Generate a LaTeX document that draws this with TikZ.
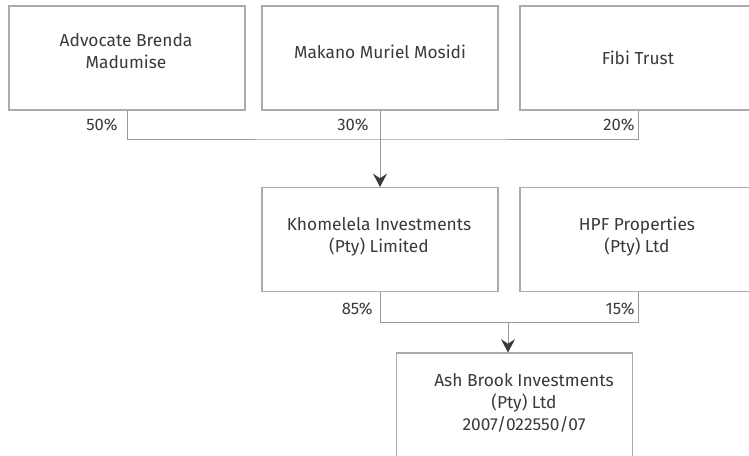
\documentclass[tikz,border=0pt]{standalone}
\usepackage{fontspec}
\setmainfont{Fira Sans}
\usetikzlibrary{arrows.meta}
\definecolor{boxline}{HTML}{ABABAB}
\definecolor{connline}{HTML}{999999}
\definecolor{ink}{HTML}{3A3A3A}
\begin{document}
\begin{tikzpicture}[x=0.75pt,y=-0.75pt,
  box/.style={draw=boxline,line width=0.8pt,fill=white,minimum width=177pt,minimum height=78pt,inner sep=0pt},
  txt/.style={text=ink,font=\fontsize{13}{16.5}\selectfont,align=center,inner sep=0pt},
  pct/.style={text=ink,font=\fontsize{12.5}{14}\selectfont,anchor=east,inner sep=0pt},
  conn/.style={draw=connline,line width=0.75pt},
  arr/.style={conn,-{Stealth[length=10pt,width=10.5pt,inset=3.5pt,color=ink]}}]
\useasboundingbox (0,0) rectangle (749,455);
\begin{scope}
\clip (0,0) rectangle (749,455);
% shareholders of Khomelela
\node[box] (b1) at (127,58) {};
\node[box] (b2) at (380,58) {};
\node[box] (b3) at (638,58) {};
\node[txt] (t1) at (126,51) {Advocate Brenda\\Madumise};
\node[txt] (t2) at (380,52) {Makano Muriel Mosidi};
\node[txt] (t3) at (638,58) {Fibi Trust};
% second tier
\node[box] (b4) at (380,239.5) {};
\node[box] (b5) at (638,239.5) {};
\node[txt] (t4) at (379,236.5) {Khomelela Investments\\(Pty) Limited};
\node[txt] (t5) at (637,237) {HPF Properties\\(Pty) Ltd};
% target company
\node[box] (b6) at (514.5,405) {};
\node[txt] (t6) at (524,403) {Ash Brook Investments\\(Pty) Ltd\\2007/022550/07};
% connectors
\coordinate (j1) at (380,139);
\draw[conn] (b1.south) |- (j1) -| (b3.south);
\draw[arr] (b2.south) -- (b4.north);
\coordinate (j2) at (508,322);
\draw[conn] (b4.south) |- (j2) -| (b5.south);
\draw[arr] (j2) -- (j2 |- b6.north);
% percentages
\node[pct] (p1) at (118,125) {50\%};
\node[pct] (p2) at (369,125) {30\%};
\node[pct] (p3) at (635,125) {20\%};
\node[pct] (p4) at (373,309) {85\%};
\node[pct] (p5) at (635,309) {15\%};
\end{scope}
\end{tikzpicture}
\end{document}
